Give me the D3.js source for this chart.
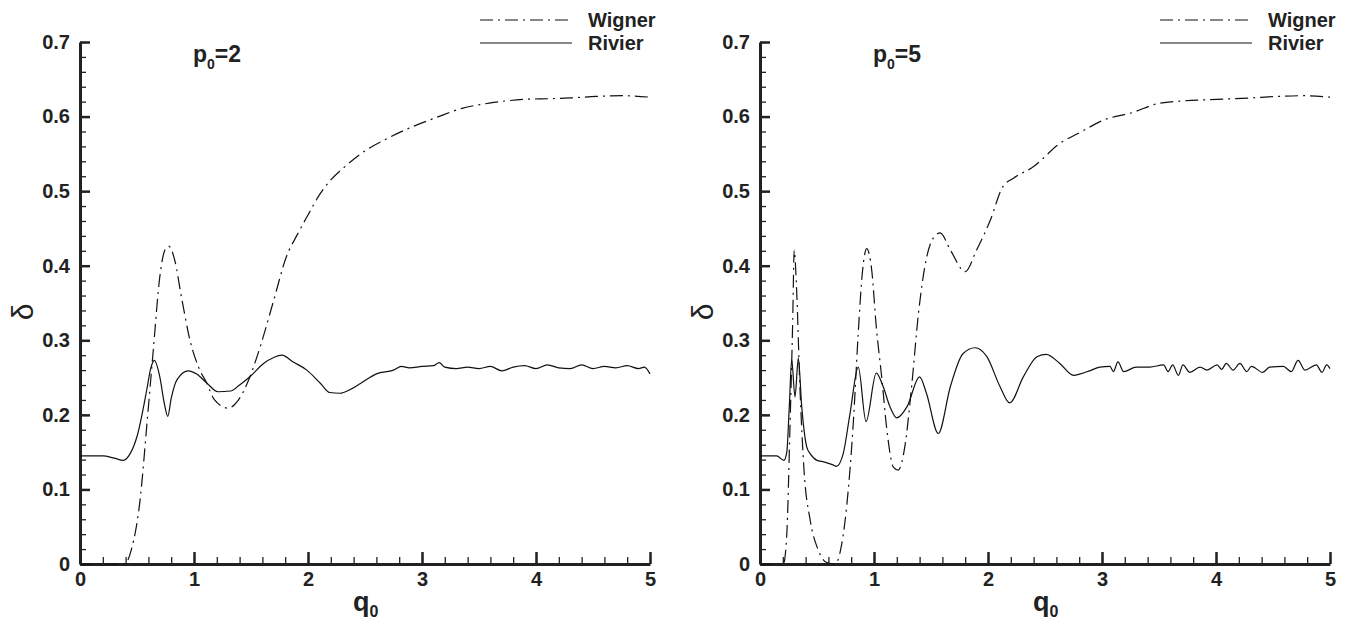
<!DOCTYPE html>
<html>
<head>
<meta charset="utf-8">
<script src="https://cdn.jsdelivr.net/npm/d3@7"></script>
<style>
  body { margin: 0; background: #fff; }
  text { font-family: "Liberation Sans", Arial, sans-serif; fill: #222; }
</style>
</head>
<body>
<svg id="chart" width="1364" height="619"></svg>
<script>
// q0 and delta values
const wignerP2 = [[0,0],[0.2,0],[0.39,0],[0.45,0.019],[0.53,0.09],[0.585,0.184],[0.643,0.287],[0.7,0.385],
  [0.745,0.421],[0.78,0.426],[0.83,0.408],[0.89,0.358],[0.965,0.3],[1.04,0.264],[1.11,0.243],[1.18,0.22],
  [1.3,0.209],[1.39,0.22],[1.48,0.247],[1.58,0.291],[1.7,0.354],[1.81,0.412],[1.9,0.44],[2,0.468],
  [2.1,0.495],[2.2,0.515],[2.31,0.531],[2.51,0.555],[2.7,0.571],[2.91,0.586],[3.13,0.599],[3.35,0.611],
  [3.59,0.618],[3.89,0.623],[4.12,0.624],[4.3,0.625],[4.53,0.627],[4.77,0.628],[5,0.626]];

const rivierP2 = [[0,0.145],[0.2,0.145],[0.3,0.142],[0.38,0.139],[0.44,0.148],[0.5,0.171],[0.585,0.233],
  [0.62,0.262],[0.652,0.273],[0.7,0.251],[0.74,0.215],[0.77,0.198],[0.8,0.222],[0.85,0.247],[0.95,0.259],
  [1.02,0.255],[1.11,0.243],[1.21,0.231],[1.32,0.232],[1.4,0.24],[1.49,0.251],[1.61,0.269],[1.7,0.277],
  [1.77,0.28],[1.87,0.271],[1.99,0.26],[2.11,0.242],[2.19,0.23],[2.28,0.229],[2.37,0.234],[2.46,0.242],
  [2.6,0.255],[2.75,0.26],[2.82,0.265],[2.89,0.263],[3,0.265],[3.1,0.266],[3.15,0.27],[3.2,0.264],
  [3.3,0.262],[3.4,0.264],[3.5,0.262],[3.6,0.265],[3.7,0.259],[3.8,0.264],[3.9,0.266],[4,0.262],
  [4.1,0.267],[4.2,0.263],[4.3,0.262],[4.4,0.267],[4.5,0.262],[4.6,0.265],[4.7,0.263],[4.8,0.266],
  [4.9,0.262],[4.95,0.264],[5,0.255]];

const wignerP5 = [[0,0],[0.205,0],[0.234,0.037],[0.263,0.184],[0.287,0.327],[0.3,0.421],[0.32,0.372],
  [0.35,0.238],[0.386,0.126],[0.44,0.059],[0.51,0.019],[0.585,0.002],[0.66,0],[0.7,0.014],[0.76,0.077],
  [0.82,0.193],[0.86,0.305],[0.9,0.394],[0.936,0.423],[0.98,0.394],[1.02,0.318],[1.07,0.247],[1.11,0.184],
  [1.17,0.13],[1.213,0.126],[1.27,0.157],[1.33,0.238],[1.39,0.336],[1.46,0.41],[1.52,0.437],[1.58,0.444],
  [1.67,0.421],[1.8,0.392],[1.9,0.421],[1.96,0.44],[2.02,0.461],[2.13,0.506],[2.22,0.517],[2.4,0.533],
  [2.63,0.564],[2.81,0.579],[3.01,0.595],[3.28,0.606],[3.48,0.617],[3.71,0.621],[4.01,0.623],[4.3,0.625],
  [4.53,0.627],[4.77,0.628],[5,0.626]];

const rivierP5 = [[0,0.145],[0.146,0.145],[0.21,0.139],[0.235,0.15],[0.257,0.211],[0.278,0.274],[0.307,0.224],
  [0.336,0.276],[0.366,0.211],[0.41,0.157],[0.44,0.148],[0.5,0.139],[0.56,0.137],[0.64,0.133],[0.67,0.131],
  [0.73,0.148],[0.79,0.202],[0.862,0.264],[0.93,0.191],[1.02,0.256],[1.08,0.238],[1.14,0.211],[1.2,0.196],
  [1.29,0.211],[1.4,0.251],[1.46,0.229],[1.564,0.175],[1.67,0.238],[1.78,0.282],[1.886,0.29],[1.99,0.278],
  [2.105,0.238],[2.19,0.216],[2.31,0.251],[2.43,0.278],[2.51,0.281],[2.63,0.269],[2.75,0.253],[2.81,0.255],
  [2.89,0.259],[2.98,0.264],[3.07,0.265],[3.1,0.258],[3.14,0.271],[3.19,0.258],[3.3,0.264],[3.42,0.264],
  [3.54,0.267],[3.58,0.258],[3.62,0.267],[3.67,0.253],[3.71,0.267],[3.77,0.257],[3.86,0.264],[3.92,0.26],
  [4.01,0.267],[4.05,0.261],[4.09,0.269],[4.15,0.26],[4.21,0.269],[4.27,0.258],[4.31,0.265],[4.41,0.257],
  [4.47,0.264],[4.59,0.265],[4.66,0.258],[4.72,0.273],[4.78,0.26],[4.88,0.267],[4.93,0.257],[4.97,0.267],
  [5,0.262]];

const xTicks = [0, 1, 2, 3, 4, 5];
const xMinor = d3.range(0, 5.001, 0.2).map(v => +v.toFixed(1));
const yTicks = [0, 0.1, 0.2, 0.3, 0.4, 0.5, 0.6, 0.7];
const yTickLabels = ["0", "0.1", "0.2", "0.3", "0.4", "0.5", "0.6", "0.7"];
const yMinor = d3.range(0, 0.7001, 0.02).map(v => +v.toFixed(2));
const seriesNames = ["Wigner", "Rivier"];
const panelP0 = ["2", "5"];

const svg = d3.select("#chart");
const INK = "#222";

const panels = [
  { left: 80, p0: panelP0[0], wigner: wignerP2, rivier: rivierP2 },
  { left: 760, p0: panelP0[1], wigner: wignerP5, rivier: rivierP5 }
];

panels.forEach(p => {
  const x = d3.scaleLinear().domain([0, 5]).range([p.left, p.left + 570]);
  const y = d3.scaleLinear().domain([0, 0.7]).range([564, 42]);
  const g = svg.append("g");

  // minor ticks
  g.append("g")
    .attr("transform", "translate(0,564)")
    .call(d3.axisBottom(x).tickValues(xMinor).tickSize(-7).tickFormat(""))
    .call(a => a.select(".domain").remove())
    .call(a => a.selectAll("line").attr("stroke", INK).attr("stroke-width", 1.3));
  g.append("g")
    .attr("transform", `translate(${p.left},0)`)
    .call(d3.axisLeft(y).tickValues(yMinor).tickSize(-6).tickFormat(""))
    .call(a => a.select(".domain").remove())
    .call(a => a.selectAll("line").attr("stroke", INK).attr("stroke-width", 1.3));

  // major axes
  g.append("g")
    .attr("transform", "translate(0,564)")
    .call(d3.axisBottom(x).tickValues(xTicks).tickSizeInner(-12).tickSizeOuter(0).tickPadding(8)
      .tickFormat(d3.format("d")))
    .call(a => a.select(".domain").attr("stroke", INK).attr("stroke-width", 3))
    .call(a => a.selectAll("line").attr("stroke", INK).attr("stroke-width", 2.5))
    .call(a => a.selectAll("text").attr("font-size", 20).attr("font-weight", "bold")
      .attr("font-family", "Liberation Sans, Arial, sans-serif").attr("fill", INK));
  g.append("g")
    .attr("transform", `translate(${p.left},0)`)
    .call(d3.axisLeft(y).tickValues(yTicks).tickSizeInner(-10).tickSizeOuter(0).tickPadding(10)
      .tickFormat((d, i) => yTickLabels[i]))
    .call(a => a.select(".domain").attr("stroke", INK).attr("stroke-width", 3))
    .call(a => a.selectAll("line").attr("stroke", INK).attr("stroke-width", 2.5))
    .call(a => a.selectAll("text").attr("font-size", 20).attr("font-weight", "bold")
      .attr("font-family", "Liberation Sans, Arial, sans-serif").attr("fill", INK));

  // axis titles
  const xt = g.append("text").attr("x", p.left + 273).attr("y", 611)
    .attr("font-size", 27).attr("font-weight", "bold").text("q");
  xt.append("tspan").attr("font-size", 16).attr("dy", 6).text("0");

  g.append("text")
    .attr("transform", `translate(${p.left - 47},312) rotate(-90)`)
    .attr("text-anchor", "middle")
    .attr("font-family", "Liberation Serif, DejaVu Serif, serif")
    .attr("font-size", 30)
    .text("δ");

  // panel label
  const tt = g.append("text").attr("x", p.left + 113).attr("y", 62)
    .attr("font-size", 23).attr("font-weight", "bold").text("p");
  tt.append("tspan").attr("font-size", 14).attr("dy", 7).text("0");
  tt.append("tspan").attr("dy", -7).text("=" + p.p0);

  const line = d3.line().x(d => x(d[0])).y(d => y(d[1])).curve(d3.curveMonotoneX);

  g.append("path").datum(p.rivier)
    .attr("fill", "none").attr("stroke", "#111").attr("stroke-width", 1.2)
    .attr("d", line);
  g.append("path").datum(p.wigner)
    .attr("fill", "none").attr("stroke", "#111").attr("stroke-width", 1.2)
    .attr("stroke-dasharray", "13,5,2,5")
    .attr("d", line);

  // legend
  const lg = g.append("g").attr("transform", `translate(${p.left + 400},0)`);
  lg.append("line").attr("x1", 0).attr("x2", 92).attr("y1", 20).attr("y2", 20)
    .attr("stroke", "#111").attr("stroke-width", 1.2).attr("stroke-dasharray", "13,5,2,5");
  lg.append("line").attr("x1", 0).attr("x2", 92).attr("y1", 43).attr("y2", 43)
    .attr("stroke", "#111").attr("stroke-width", 1.2);
  lg.append("text").attr("x", 108).attr("y", 27).attr("font-size", 20).attr("font-weight", "bold")
    .text(seriesNames[0]);
  lg.append("text").attr("x", 108).attr("y", 50).attr("font-size", 20).attr("font-weight", "bold")
    .text(seriesNames[1]);
});
</script>
</body>
</html>
